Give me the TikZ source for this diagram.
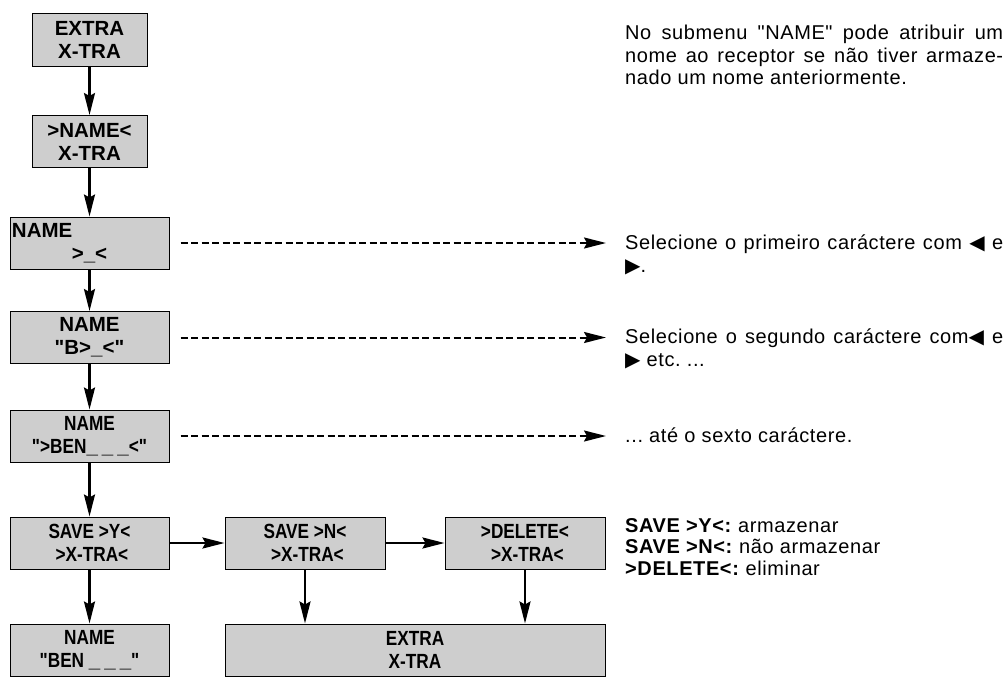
\documentclass[tikz,border=0pt]{standalone}
\usepackage{fontspec}
\setmainfont{Liberation Sans}[Ligatures=TeXOff]
\newfontfamily\narrowfont{Liberation Sans}[FakeStretch=0.84]
\newfontfamily\notefont{Liberation Sans}[LetterSpace=3]
\newfontfamily\symbolfont{DejaVu Sans}
\usetikzlibrary{arrows.meta}
\definecolor{lcd-grey}{HTML}{CECECE}
\newcommand{\leftkey}{{\symbolfont\char"25C0}}
\newcommand{\rightkey}{{\symbolfont\char"25B6}}
\newcommand{\blank}{{\rmfamily\bfseries\_}}
\newcommand{\gap}{\blank\hspace{4pt}}
% one line of a note, spaces stretched to the full width
\newcommand{\fullline}[1]{{\spaceskip=0pt\xspaceskip=0pt\makebox[378pt][s]{#1}}}
\newcommand{\plainline}[1]{{\spaceskip=0pt\xspaceskip=0pt #1}}
\frenchspacing

\tikzset{
  menubox/.style={draw=black, line width=1pt, fill=lcd-grey,
    minimum height=52pt, inner sep=2pt, align=center,
    font=\fontsize{20.5}{23}\selectfont\bfseries},
  narrowbox/.style={menubox, font=\fontsize{20.5}{23}\narrowfont\bfseries},
  flow/.style={-{Stealth[length=22pt, width=11pt, inset=3pt]}, line width=2.2pt},
  hint/.style={-{Stealth[length=22pt, width=11pt, inset=3pt]}, line width=2pt,
    dash pattern=on 7pt off 3.5pt, shorten <=11pt, shorten >=19pt},
  note/.style={anchor=base west, inner sep=0pt, text width=378pt, align=left,
    font=\fontsize{20}{22.5}\notefont}
}

\begin{document}
\begin{tikzpicture}[x=1pt, y=-1pt]
  \useasboundingbox (0,0) rectangle (1008,677);

  % left column
  \node[menubox, minimum width=115pt] (extra) at (89.5,40) {EXTRA\\X-TRA};
  \node[menubox, minimum width=115pt] (namemenu) at (89.5,141.5) {>NAME<\\X-TRA};
  \node[menubox, text width=155pt, align=left] (nameA) at (89.5,243)
       {NAME\\\makebox[155pt]{>\_<}};
  \node[menubox, minimum width=159pt] (nameB) at (89.5,337.5) {NAME\\"B>\_<"};
  \node[narrowbox, minimum width=159pt] (nameC) at (89.5,436)
       {NAME\\">BEN\gap\gap\blank<"};

  % save row
  \node[narrowbox, minimum width=159pt] (saveY) at (89.5,543) {SAVE >Y<\\\ >X-TRA<};
  \node[narrowbox, minimum width=160pt] (saveN) at (305,543) {SAVE >N<\\\ >X-TRA<};
  \node[narrowbox, minimum width=160pt] (delete) at (525,543) {>DELETE<\\\ >X-TRA<};

  % results
  \node[narrowbox, minimum width=159pt] (nameD) at (89.5,650) {NAME\\"BEN \gap\gap\blank"};
  \node[narrowbox, minimum width=380pt] (extraB) at (415,650) {EXTRA\\X-TRA};

  % notes on the right
  \node[note] (intro) at (625,40)
       {\fullline{No submenu "NAME" pode atribuir um}\\
        \fullline{nome ao receptor se não tiver armaze-}\\
        \plainline{nado um nome anteriormente.}};
  \node[note] (selA) at (625,249.5)
       {\fullline{Selecione o primeiro caráctere com \leftkey{} e}\\\rightkey.};
  \node[note] (selB) at (625,343.5)
       {\fullline{Selecione o segundo caráctere com\leftkey{} e}\\\plainline{\rightkey{} etc. ...}};
  \node[note] (selC) at (625,442) {\plainline{... até o sexto caráctere.}};
  \node[note, font=\fontsize{20}{21.5}\notefont] (legend) at (625,532)
       {\plainline{\textbf{SAVE >Y<:} armazenar}\\
        \plainline{\textbf{SAVE >N<:} não armazenar}\\
        \plainline{\textbf{>DELETE<:} eliminar}};

  \draw[flow] (extra) -- (namemenu);
  \draw[flow] (namemenu) -- (nameA);
  \draw[flow] (nameA) -- (nameB);
  \draw[flow] (nameB) -- (nameC);
  \draw[flow] (nameC) -- (saveY);
  \draw[flow] (saveY) -- (saveN);
  \draw[flow] (saveN) -- (delete);
  \draw[flow] (saveY) -- (nameD);
  \draw[flow] (saveN) -- (saveN |- extraB.north);
  \draw[flow] (delete) -- (delete |- extraB.north);

  \draw[hint] (nameA.east) -- (selA.west |- nameA.east);
  \draw[hint] (nameB.east) -- (selB.west |- nameB.east);
  \draw[hint] (nameC.east) -- (selC.west |- nameC.east);
\end{tikzpicture}
\end{document}
